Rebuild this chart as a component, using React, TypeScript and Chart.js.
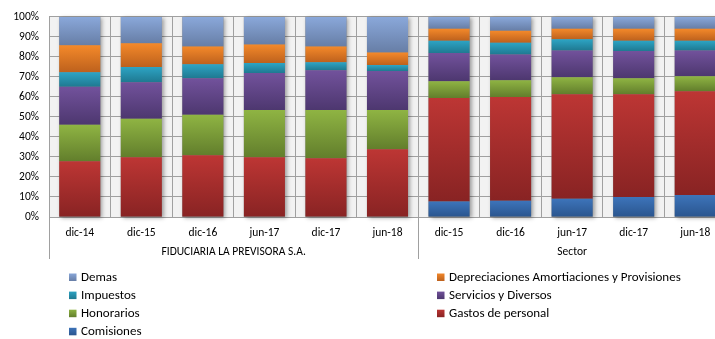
import React, { useEffect, useRef } from "react";
import { Chart, registerables } from "chart.js";

Chart.register(...registerables);

const categories = ["dic-14", "dic-15", "dic-16", "jun-17", "dic-17", "jun-18", "dic-15", "dic-16", "jun-17", "dic-17", "jun-18"];
const groups = [
  { label: "FIDUCIARIA LA PREVISORA S.A.", from: 0, to: 5 },
  { label: "Sector", from: 6, to: 10 },
];

const comisiones = [0, 0, 0, 0, 0, 0, 7.7, 8.1, 9.1, 10.0, 11.0];
const gastosPersonal = [27.8, 29.8, 30.8, 29.8, 29.3, 33.8, 51.8, 51.9, 52.3, 51.4, 51.9];
const honorarios = [18.3, 19.3, 20.3, 23.7, 24.2, 19.7, 8.4, 8.4, 8.5, 8.0, 7.4];
const servicios = [19.0, 18.3, 18.3, 18.5, 19.8, 19.5, 14.0, 12.8, 13.3, 13.5, 12.9];
const impuestos = [7.2, 7.6, 6.9, 4.9, 4.0, 2.9, 6.2, 5.9, 5.6, 5.2, 4.9];
const depreciaciones = [13.5, 11.8, 8.9, 9.3, 7.9, 6.3, 6.0, 6.0, 5.3, 6.0, 6.0];
const demas = [14.2, 13.2, 14.8, 13.8, 14.8, 17.8, 5.9, 6.9, 5.9, 5.9, 5.9];

const yTicks = [0, 10, 20, 30, 40, 50, 60, 70, 80, 90, 100];

// stacking order bottom -> top
const series = [
  { label: "Comisiones", data: comisiones, top: "#3d74ba", bottom: "#2a558e", solid: "#3465a4" },
  { label: "Gastos de personal", data: gastosPersonal, top: "#bd3634", bottom: "#882323", solid: "#b0302e" },
  { label: "Honorarios", data: honorarios, top: "#8fb443", bottom: "#627e2c", solid: "#80a23a" },
  { label: "Servicios y Diversos", data: servicios, top: "#72529c", bottom: "#4d376f", solid: "#664a8e" },
  { label: "Impuestos", data: impuestos, top: "#2da4c4", bottom: "#1f7991", solid: "#2895b2" },
  { label: "Depreciaciones Amortiaciones y Provisiones", data: depreciaciones, top: "#f4892a", bottom: "#bd611d", solid: "#e57b25" },
  { label: "Demas", data: demas, top: "#8aa8da", bottom: "#677ea6", solid: "#7e98c8" },
];

// legend layout: columns of labels
const legendLeft = ["Demas", "Impuestos", "Honorarios", "Comisiones"];
const legendRight = ["Depreciaciones Amortiaciones y Provisiones", "Servicios y Diversos", "Gastos de personal"];

const FONT = 'Carlito, "Liberation Sans Narrow", Lato, sans-serif';

export default function App() {
  const ref = useRef<HTMLCanvasElement | null>(null);

  useEffect(() => {
    const canvas = ref.current;
    if (!canvas) return;

    const gradientFor = (ctx: any) => {
      const s = series[ctx.datasetIndex];
      if (ctx.type !== "data") return s.solid;
      const chart = ctx.chart;
      const y = chart.scales && chart.scales.y;
      if (!y) return s.solid;
      let cum = 0;
      for (let i = 0; i < ctx.datasetIndex; i++) cum += series[i].data[ctx.dataIndex];
      const v = s.data[ctx.dataIndex];
      const pTop = y.getPixelForValue(cum + v);
      const pBot = y.getPixelForValue(cum);
      if (!isFinite(pTop) || !isFinite(pBot) || pTop === pBot) return s.solid;
      const g = chart.ctx.createLinearGradient(0, pTop, 0, pBot);
      g.addColorStop(0, s.top);
      g.addColorStop(1, s.bottom);
      return g;
    };

    const bgPlugin = {
      id: "bg",
      beforeDraw(chart: any) {
        const { ctx, chartArea: a } = chart;
        ctx.save();
        ctx.fillStyle = "#f2f2f2";
        ctx.fillRect(a.left, a.top, a.right - a.left, a.bottom - a.top);
        ctx.restore();
      },
      beforeDatasetsDraw(chart: any) {
        const { ctx } = chart;
        const meta = chart.getDatasetMeta(0);
        const y = chart.scales.y;
        ctx.save();
        ctx.shadowColor = "rgba(0,0,0,0.35)";
        ctx.shadowBlur = 4;
        ctx.shadowOffsetX = 2;
        ctx.shadowOffsetY = 1;
        ctx.fillStyle = "#888";
        meta.data.forEach((el: any) => {
          const w = el.width;
          const x0 = el.x - w / 2;
          const t = y.getPixelForValue(100);
          const b = y.getPixelForValue(0);
          ctx.fillRect(x0, t, w, b - t);
        });
        ctx.restore();
      },
    };

    const groupPlugin = {
      id: "groups",
      afterDraw(chart: any) {
        const { ctx, chartArea: a } = chart;
        const x = chart.scales.x;
        ctx.save();
        ctx.strokeStyle = "#a0a0a0";
        ctx.lineWidth = 1;
        const bounds: number[] = [];
        groups.forEach((g) => {
          const left = g.from === 0 ? a.left : (x.getPixelForValue(g.from - 1) + x.getPixelForValue(g.from)) / 2;
          bounds.push(left);
        });
        bounds.forEach((bx) => {
          const px = Math.round(bx) + 0.5;
          ctx.beginPath();
          ctx.moveTo(px, a.bottom);
          ctx.lineTo(px, a.bottom + 42);
          ctx.stroke();
        });
        ctx.fillStyle = "#000";
        ctx.font = `11.5px ${FONT}`;
        ctx.textAlign = "center";
        ctx.textBaseline = "middle";
        groups.forEach((g) => {
          const left = g.from === 0 ? a.left : (x.getPixelForValue(g.from - 1) + x.getPixelForValue(g.from)) / 2;
          const right = g.to === categories.length - 1 ? a.right : (x.getPixelForValue(g.to) + x.getPixelForValue(g.to + 1)) / 2;
          ctx.fillText(g.label, (left + right) / 2, 252);
        });

        // legend
        ctx.font = `13px ${FONT}`;
        const drawItem = (label: string, sx: number, tx: number, cy: number) => {
          const s = series.find((q) => q.label === label)!;
          const g = ctx.createLinearGradient(0, cy - 4, 0, cy + 4);
          g.addColorStop(0, s.top);
          g.addColorStop(1, s.bottom);
          ctx.fillStyle = g;
          ctx.fillRect(sx, cy - 3.5, 7.5, 7.5);
          ctx.fillStyle = "#000";
          ctx.textAlign = "left";
          ctx.fillText(label, tx, cy + 0.5);
        };
        legendLeft.forEach((l, i) => drawItem(l, 69, 81, 277 + i * 18.1));
        legendRight.forEach((l, i) => drawItem(l, 437, 449, 277 + i * 18.1));
        ctx.restore();
      },
    };

    const chart = new Chart(canvas, {
      type: "bar",
      data: {
        labels: categories,
        datasets: series.map((s) => ({
          label: s.label,
          data: s.data,
          backgroundColor: gradientFor,
          borderWidth: 0,
          categoryPercentage: 1,
          barPercentage: 0.667,
        })),
      },
      options: {
        animation: false,
        responsive: true,
        maintainAspectRatio: false,
        layout: { padding: { top: 15, left: 0, right: 0, bottom: 0 } },
        plugins: {
          legend: { display: false },
          tooltip: { enabled: false },
        },
        scales: {
          x: {
            stacked: true,
            grid: { display: true, color: "#a0a0a0", drawTicks: false, offset: true },
            border: { display: true, color: "#a0a0a0" },
            ticks: { color: "#000", font: { family: FONT, size: 11.5 }, padding: 9, maxRotation: 0, autoSkip: false },
            afterFit: (scale: any) => { scale.height = 122; },
          },
          y: {
            stacked: true,
            min: 0,
            max: 100,
            afterBuildTicks: (scale: any) => { scale.ticks = yTicks.map((v) => ({ value: v })); },
            grid: { color: "#a0a0a0", drawTicks: false },
            border: { display: true, color: "#a0a0a0" },
            ticks: { color: "#000", font: { family: FONT, size: 11.5 }, padding: 10, callback: (v: any) => `${v}%` },
            afterFit: (scale: any) => { scale.width = 49; },
          },
        },
      },
      plugins: [bgPlugin, groupPlugin],
    });
    return () => chart.destroy();
  }, []);

  return (
    <div style={{ position: "absolute", left: 0, top: 0, width: 715, height: 339, overflow: "hidden", background: "#fff" }}>
      <div style={{ position: "relative", width: 726, height: 339 }}>
        <canvas ref={ref} />
      </div>
    </div>
  );
}
